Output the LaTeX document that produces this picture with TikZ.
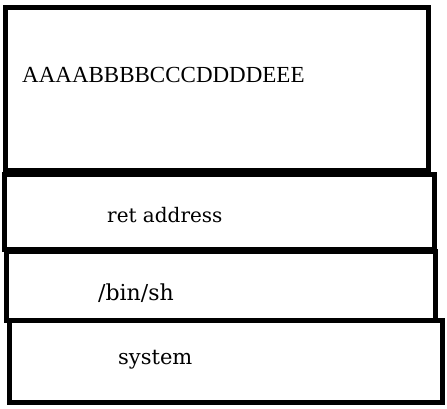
\documentclass[tikz,border=0pt]{standalone}
\usepackage{fontspec}
\setmainfont{Liberation Serif}
\newfontfamily\lowfont{DejaVu Serif}
\begin{document}
\begin{tikzpicture}[x=1pt,y=-1pt,
  frame/.style={draw=black,line width=5pt,fill=none,inner sep=0pt,outer sep=0pt},
  lbl/.style={anchor=base west,inner sep=0pt,font=\fontsize{23}{27}\selectfont},
  lowlbl/.style={anchor=base west,inner sep=0pt,font=\lowfont\fontsize{21}{25}\selectfont}]
\useasboundingbox (0,0) rectangle (447,408);
\node[frame,minimum width=422.5pt,minimum height=162.5pt] (box1) at (216.75,88.75) {};
\node[frame,minimum width=430pt,minimum height=75.5pt] (box2) at (219.5,211.75) {};
\node[frame,minimum width=429pt,minimum height=69pt] (box3) at (221,285.5) {};
\node[frame,minimum width=432.5pt,minimum height=82.5pt] (box4) at (225.75,361.25) {};
\node[lbl] (t1) at (22,82) {AAAABBBBCCCDDDDEEE};
\node[lowlbl,font=\lowfont\fontsize{20}{24}\selectfont] (t2) at (107,222) {ret\ address};
\node[lowlbl,font=\lowfont\fontsize{22}{26}\selectfont] (t3) at (98,300) {/bin/sh};
\node[lowlbl] (t4) at (118,364) {system};
\end{tikzpicture}
\end{document}
